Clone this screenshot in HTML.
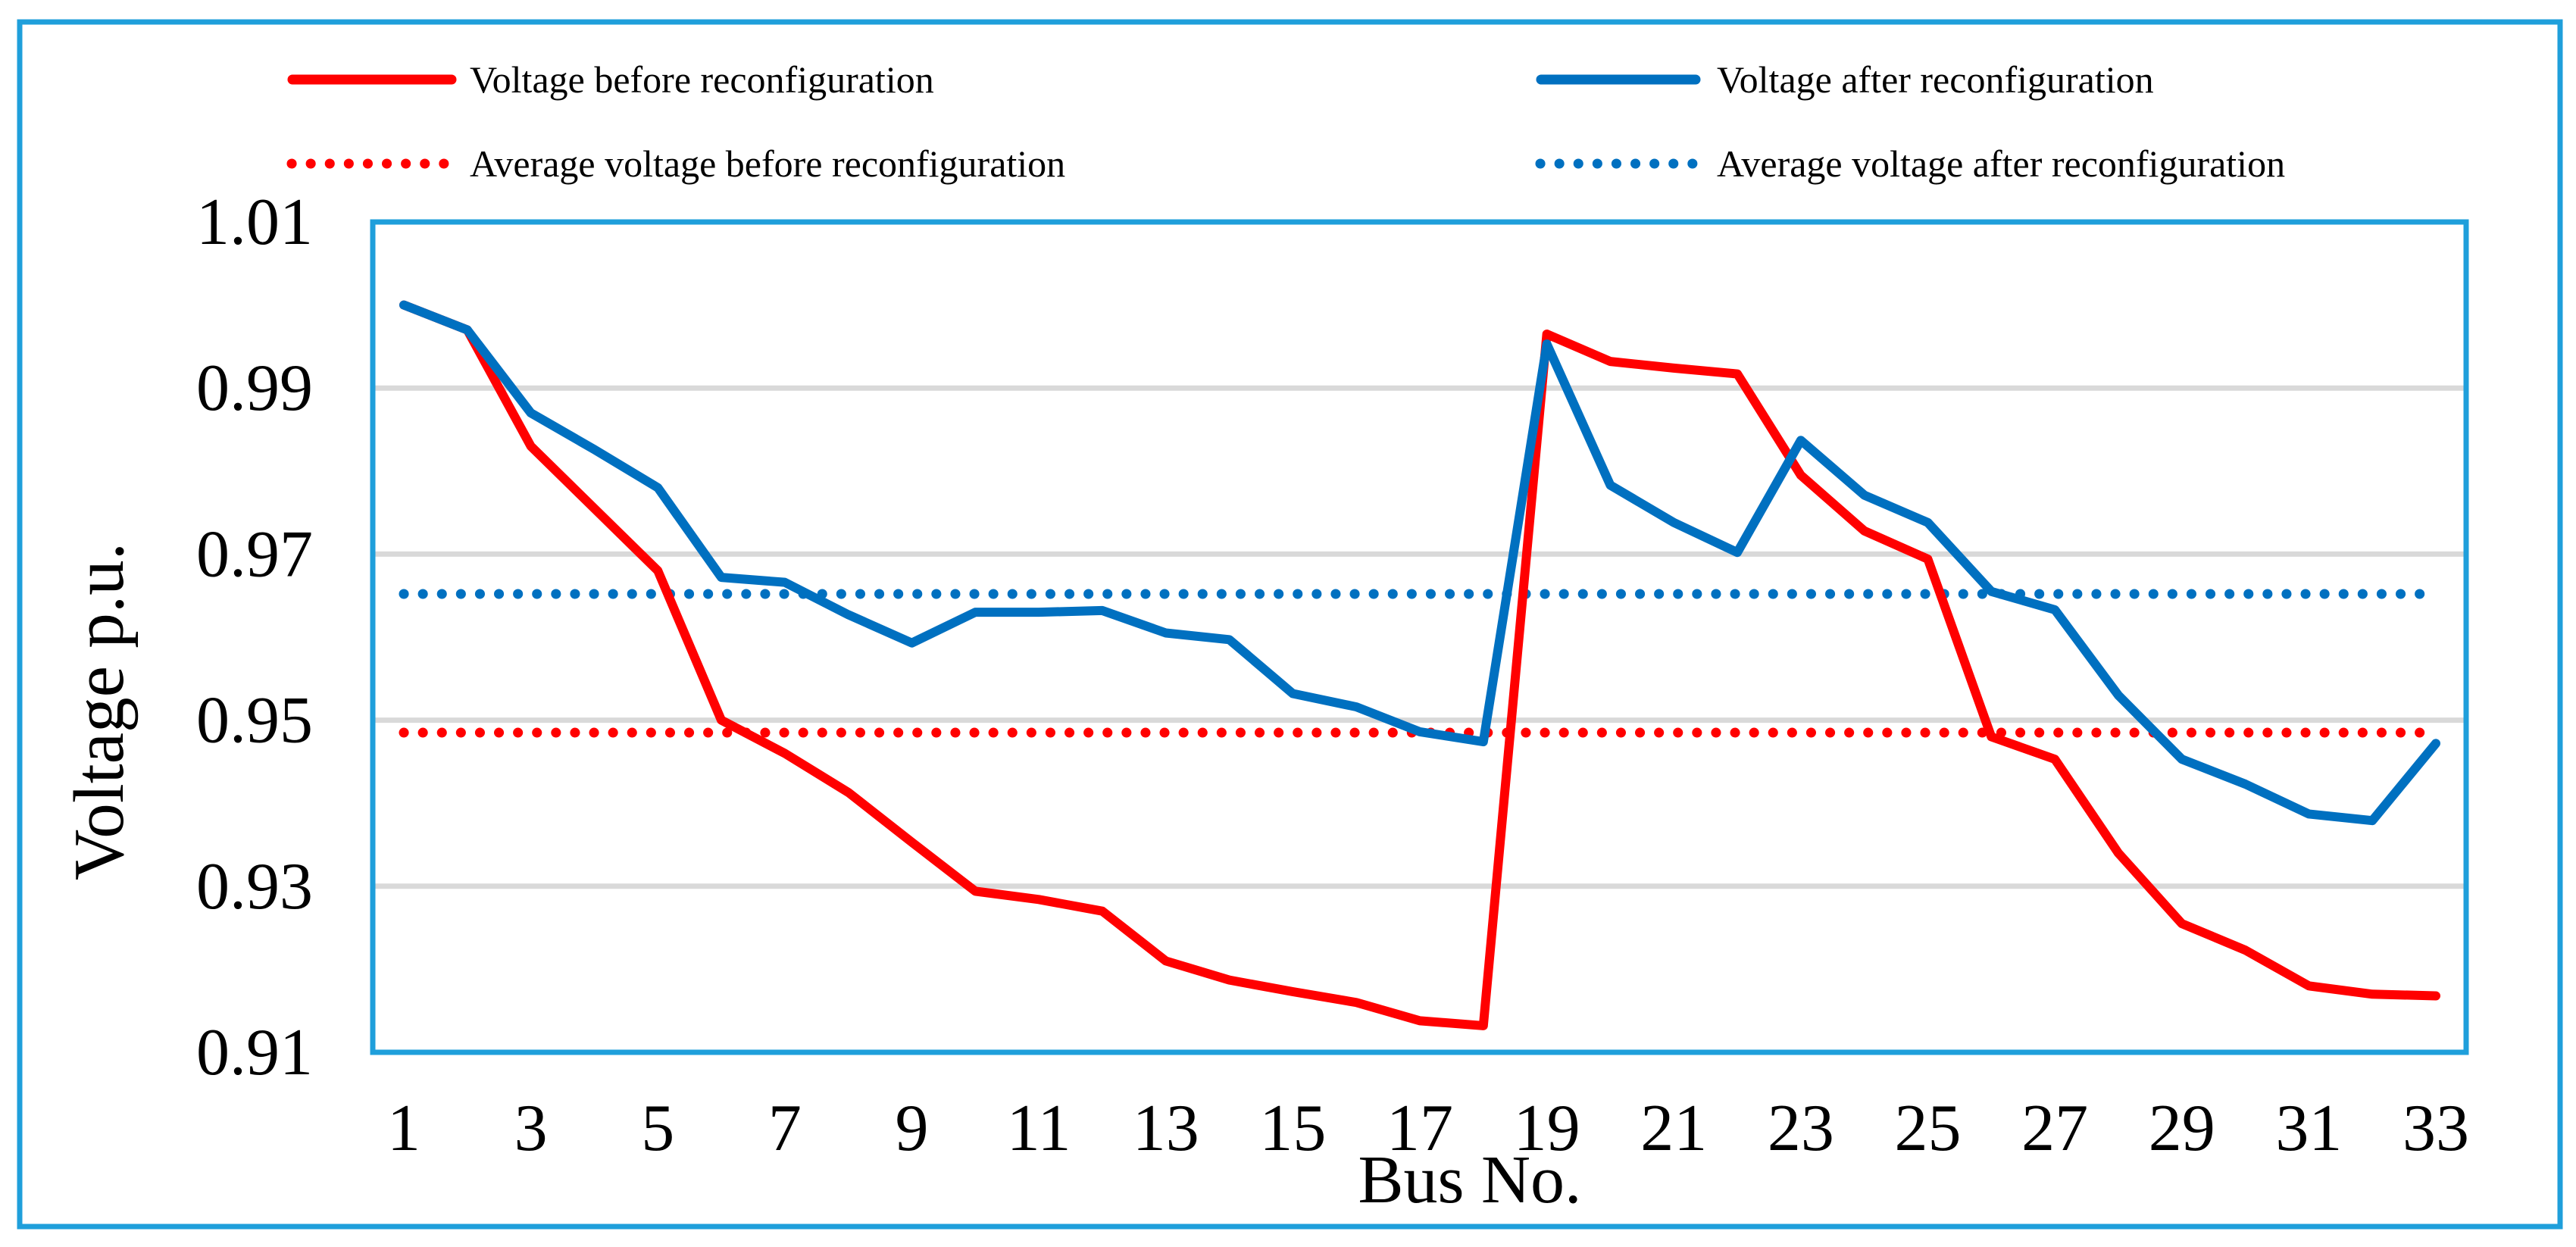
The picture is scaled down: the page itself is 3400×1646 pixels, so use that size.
<!DOCTYPE html>
<html><head><meta charset="utf-8">
<style>
html,body{margin:0;padding:0;background:#fff;}
svg{display:block;font-family:"Liberation Serif","Times New Roman",serif;}
</style></head>
<body>
<svg id="chart" width="3400" height="1646" viewBox="0 0 3400 1646" xmlns="http://www.w3.org/2000/svg">
<rect x="26" y="29" width="3353" height="1590" fill="none" stroke="#1f9fdb" stroke-width="7"/>
<g id="grid"></g>
<g id="avg"></g>
<g id="series"></g>
<rect x="492" y="293" width="2763" height="1096" fill="none" stroke="#1f9fdb" stroke-width="7"/>
<g id="yticks"></g>
<g id="xticks"></g>
<text x="939" y="162" font-size="94" text-anchor="middle" textLength="446" lengthAdjust="spacingAndGlyphs" id="ytitle">Voltage p.u.</text>
<text x="1940" y="1587" font-size="90" text-anchor="middle">Bus No.</text>
<g>
<g>
<line x1="386" y1="105" x2="596" y2="105" stroke="#ff0000" stroke-width="13" stroke-linecap="round"/>
<text x="620" y="122" font-size="50">Voltage before reconfiguration</text></g>
<g>
<line x1="2034" y1="105" x2="2238" y2="105" stroke="#0070c0" stroke-width="13" stroke-linecap="round"/>
<text x="2266" y="122" font-size="50">Voltage after reconfiguration</text></g>
<g>
<line x1="385" y1="216" x2="592" y2="216" stroke="#ff0000" stroke-width="13" stroke-linecap="round" stroke-dasharray="0.1 25"/>
<text x="620" y="233" font-size="50">Average voltage before reconfiguration</text></g>
<g>
<line x1="2033" y1="216" x2="2240" y2="216" stroke="#0070c0" stroke-width="13" stroke-linecap="round" stroke-dasharray="0.1 25"/>
<text x="2266" y="233" font-size="50">Average voltage after reconfiguration</text></g>
</g>
</svg>
<script>
const buses = Array.from({length:33},(_,i)=>i+1);
const before = [1.000,0.997,0.983,0.9755,0.968,0.950,0.946,0.9413,0.9353,0.9294,0.9284,0.927,0.921,0.9187,0.9173,0.916,0.9138,0.9132,0.9965,0.9932,0.9924,0.9917,0.9795,0.9728,0.9694,0.948,0.9453,0.934,0.9255,0.9223,0.918,0.917,0.9168];
const after = [1.000,0.997,0.987,0.9826,0.978,0.9672,0.9666,0.9627,0.9593,0.963,0.963,0.9632,0.9605,0.9597,0.9532,0.9516,0.9486,0.9474,0.9953,0.9783,0.9738,0.9702,0.9837,0.9771,0.9738,0.9655,0.9633,0.953,0.9453,0.9423,0.9387,0.9379,0.9472];
const avgBefore = 0.9485;
const avgAfter = 0.9652;
const yTicks = [0.91,0.93,0.95,0.97,0.99,1.01];
const xTicks = [1,3,5,7,9,11,13,15,17,19,21,23,25,27,29,31,33];

const NS="http://www.w3.org/2000/svg";
const X0=492,X1=3255,Y0=293,Y1=1389,YMIN=0.91,YMAX=1.01;
const xs=b=>533+(b-1)*(3215-533)/32;
const ys=v=>Y1-(v-YMIN)/(YMAX-YMIN)*(Y1-Y0);
function mk(tag,attrs,parent){const e=document.createElementNS(NS,tag);for(const k in attrs)e.setAttribute(k,attrs[k]);parent.appendChild(e);return e;}
const yt=document.getElementById('ytitle');
yt.setAttribute('x','939');
yt.setAttribute('y','162');
yt.setAttribute('transform','rotate(-90 162 939) translate(-777 777)');
yt.setAttribute('x','162');
yt.setAttribute('y','939');
yt.setAttribute('transform','rotate(-90 162 939)');
const grid=document.getElementById('grid');
yTicks.forEach(t=>{
  if(t>YMIN+1e-9&&t<YMAX-1e-9){
    const l=mk('line',{x1:X0,x2:X1,y1:ys(t),y2:ys(t),stroke:'#d9d9d9','stroke-width':7},grid);
    
    
  }
  const tx=mk('text',{x:413,y:ys(t)+29,'font-size':88,'text-anchor':'end'},document.getElementById('yticks'));
  tx.textContent=t.toFixed(2);
  
  
});
xTicks.forEach(b=>{
  const tx=mk('text',{x:xs(b),y:1518,'font-size':88,'text-anchor':'middle'},document.getElementById('xticks'));
  tx.textContent=b;
  
  
});
const avg=document.getElementById('avg');
[[avgBefore,'#ff0000','avg-before-line'],[avgAfter,'#0070c0','avg-after-line']].forEach(([v,c,n])=>{
  const l=mk('line',{x1:xs(1),x2:xs(33),y1:ys(v),y2:ys(v),stroke:c,'stroke-width':13,'stroke-linecap':'round','stroke-dasharray':'0.1 25'},avg);
  
  
});
const ser=document.getElementById('series');
[[before,'#ff0000','voltage-before-line'],[after,'#0070c0','voltage-after-line']].forEach(([d,c,n])=>{
  const p=mk('polyline',{points:d.map((v,i)=>xs(buses[i])+','+ys(v)).join(' '),fill:'none',stroke:c,'stroke-width':12,'stroke-linejoin':'round','stroke-linecap':'round'},ser);
  
  
});
</script>
</body></html>
